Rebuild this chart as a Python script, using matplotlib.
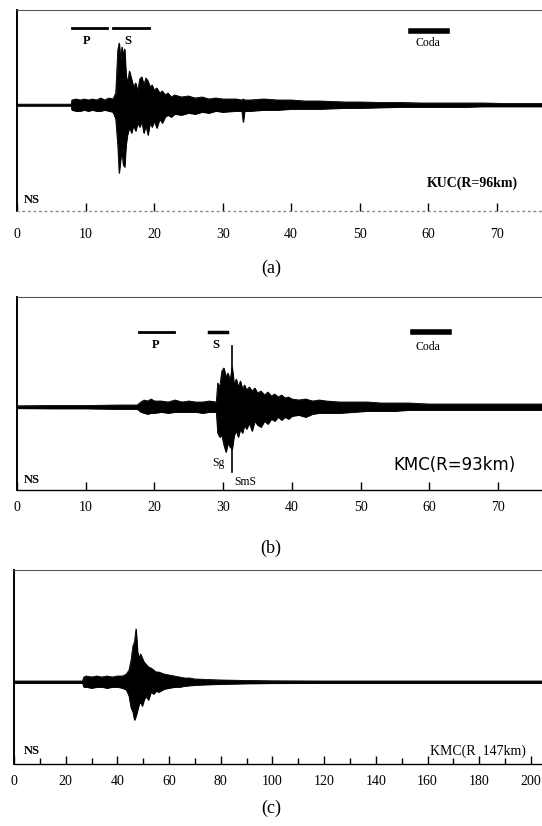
import matplotlib
matplotlib.use("Agg")
from matplotlib import pyplot as plt

# envelopes (upper / lower), in px-like units about the zero line
ta = [0, 7.9, 8.0, 8.6, 9.2, 9.8, 10.4, 11.0, 11.6, 12.2, 12.8, 13.4, 14.0, 14.4, 14.7, 14.9, 15.1, 15.3,
      15.5, 15.7, 15.9, 16.1, 16.4, 16.7, 17.0, 17.3, 17.6, 17.9, 18.2, 18.5, 18.8, 19.1, 19.4, 19.7,
      20.0, 20.4, 20.8, 21.2, 21.6, 22.0, 22.5, 23.0, 24, 25, 26, 27, 28, 29, 30, 32, 32.8, 33.0, 33.2,
      34, 36, 38, 40, 42, 44, 46, 48, 50, 53, 56, 59, 62, 65, 68, 71, 74, 76.6]
ua = [0.8, 0.8, 5, 6, 5, 6, 5, 6, 5, 7, 5, 7, 6, 12, 55, 62, 45, 58,
      50, 56, 30, 22, 34, 26, 18, 22, 14, 26, 28, 20, 27, 24, 18, 20,
      15, 17, 12, 14, 10, 12, 8, 10, 8, 9, 7, 8, 6, 7, 6, 6, 5, 6, 5,
      5, 6, 5, 5, 4, 4, 3.5, 3, 3, 2.5, 2.5, 2, 2, 2, 2, 1.5, 1.5, 1.5]
la = [-0.8, -0.8, -5, -6, -6, -5, -6, -5, -6, -6, -5, -6, -7, -14, -40, -68, -55, -45,
      -60, -62, -40, -30, -22, -28, -20, -26, -18, -22, -16, -28, -20, -30, -18, -22,
      -16, -23, -14, -18, -12, -10, -12, -9, -10, -8, -9, -7, -8, -6, -7, -6, -6, -17, -6,
      -6, -5, -5, -4, -4, -4, -3.5, -3, -3, -2.5, -2, -2, -2, -2, -1.5, -1.5, -1.5, -1.5]

tb = [0, 5, 10, 15, 17.5, 18.0, 18.5, 19.0, 19.5, 20.0, 21, 22, 23, 24, 25, 26, 27, 28, 29.0,
      29.2, 29.5, 29.8, 30.1, 30.4, 30.7, 31.0, 31.3, 31.6, 31.9, 32.2, 32.5, 32.8, 33.1, 33.4,
      33.8, 34.2, 34.6, 35.0, 35.5, 36.0, 36.5, 37.0, 37.5, 38.0, 38.5, 39.0, 39.5, 40, 41, 42,
      43, 44, 45, 47, 49, 51, 53, 55, 57, 60, 63, 66, 69, 72, 76.4]
ub = [1.2, 1.5, 1.5, 2, 2, 5, 7, 6, 8, 6, 6, 5, 7, 5, 6, 5, 5, 6, 5,
      24, 20, 36, 39, 30, 34, 26, 40, 22, 28, 20, 26, 18, 22, 17,
      20, 16, 19, 14, 16, 12, 15, 11, 13, 10, 12, 9, 10, 8, 7, 8,
      6, 7, 6, 5, 5, 5, 4, 4, 4, 3, 3, 3, 3, 3, 3]
lb = [-1.2, -1.5, -1.5, -2, -2, -5, -6, -7, -6, -6, -5, -6, -5, -5, -5, -5, -6, -5, -5,
      -26, -30, -28, -38, -45, -36, -40, -42, -28, -24, -30, -22, -26, -18, -22,
      -16, -24, -14, -18, -20, -14, -17, -12, -14, -10, -13, -10, -12, -9, -8, -10,
      -7, -6, -6, -6, -5, -4, -4, -4, -3, -3, -3, -3, -3, -3, -3]

tc = [0, 26.5, 27, 28, 30, 32, 34, 36, 38, 40, 42, 43.5, 44.5, 45.3, 46.0, 46.6, 47.2, 47.8,
      48.4, 49.0, 49.6, 50.3, 51, 52, 53, 54, 55, 56, 58, 60, 62, 64, 66, 68, 70, 75, 80, 90,
      100, 120, 150, 180, 204.3]
uc = [1, 1, 5, 6, 5, 6, 5, 6, 5, 6, 6, 8, 12, 22, 36, 40, 53, 30,
      24, 28, 24, 20, 18, 15, 14, 12, 10, 10, 8, 7, 6, 5, 4, 4, 3, 2.5, 2, 1.5,
      1.2, 1, 1, 1, 1]
lc = [-1, -1, -5, -5, -6, -5, -5, -6, -5, -5, -6, -8, -14, -26, -30, -38, -34, -28,
      -22, -20, -24, -18, -14, -18, -10, -12, -9, -10, -7, -6, -5, -5, -4, -3.5, -3, -2.5, -2, -1.5,
      -1.2, -1, -1, -1, -1]

ticks_a = [0, 10, 20, 30, 40, 50, 60, 70]
ticks_b = [0, 10, 20, 30, 40, 50, 60, 70]
ticks_c = [0, 20, 40, 60, 80, 100, 120, 140, 160, 180, 200]

serif = ['Liberation Serif', 'DejaVu Serif']
sans = ['DejaVu Sans']

fig = plt.figure(figsize=(5.42, 8.26), dpi=100)
axa = fig.add_axes([0.0314, 0.7446, 0.9686, 0.2433])
axb = fig.add_axes([0.0314, 0.4068, 0.9686, 0.2336])
axc = fig.add_axes([0.0258, 0.0751, 0.9742, 0.2348])


def style(ax, xmax, ylim, ticks, pad):
    ax.set_xlim(0, xmax)
    ax.set_ylim(*ylim)
    ax.spines['right'].set_visible(False)
    ax.spines['left'].set_linewidth(1.4)
    ax.spines['top'].set_linewidth(0.8)
    ax.spines['top'].set_color('#555555')
    ax.spines['bottom'].set_linewidth(1.0)
    ax.set_yticks([])
    ax.set_xticks(ticks)
    ax.set_xticklabels([str(t) for t in ticks], family=serif, fontsize=10)
    ax.tick_params(axis='x', direction='in', length=6, width=1, pad=pad)


def trace(ax, t, up, lo):
    ax.fill_between(t, lo, up, color='black', lw=0.6)
    ax.plot(t, up, color='black', lw=0.6)
    ax.plot(t, lo, color='black', lw=0.6)


# (a)
style(axa, 76.6, (-106, 95), ticks_a, 12)
axa.spines['bottom'].set_linestyle((0, (1, 3)))
axa.spines['bottom'].set_color('#888888')
trace(axa, ta, ua, la)
axa.plot([8.0, 13.1], [77, 77], color='black', lw=2)
axa.plot([14.0, 19.2], [77, 77], color='black', lw=2)
axa.plot([57.5, 62.8], [74, 74], color='black', lw=4)
axa.text(10.2, 64, 'P', family=serif, fontsize=9, fontweight='bold', ha='center', va='center')
axa.text(16.2, 64, 'S', family=serif, fontsize=9, fontweight='bold', ha='center', va='center')
axa.text(60.0, 62, 'Coda', family=serif, fontsize=8.5, ha='center', va='center')
axa.text(1.0, -95, 'NS', family=serif, fontsize=9, fontweight='bold', ha='left', va='center')
axa.text(73.1, -78, 'KUC(R=96km)', family=serif, fontsize=10, fontweight='bold', ha='right', va='center')

# (b)
style(axb, 76.4, (-83, 110), ticks_b, 8)
trace(axb, tb, ub, lb)
axb.plot([17.8, 22.9], [75, 75], color='black', lw=2)
axb.plot([27.9, 30.6], [75, 75], color='black', lw=2.5)
axb.plot([57.6, 62.9], [75, 75], color='black', lw=4)
axb.plot([31.3, 31.3], [61, -65], color='black', lw=1.2)
axb.text(20.1, 62, 'P', family=serif, fontsize=9, fontweight='bold', ha='center', va='center')
axb.text(29.0, 62, 'S', family=serif, fontsize=9, fontweight='bold', ha='center', va='center')
axb.text(59.8, 60, 'Coda', family=serif, fontsize=8.5, ha='center', va='center')
axb.text(29.3, -56, 'Sg', family=serif, fontsize=8.5, ha='center', va='center')
axb.text(33.2, -75, 'SmS', family=serif, fontsize=8.5, ha='center', va='center')
axb.text(1.0, -73, 'NS', family=serif, fontsize=9, fontweight='bold', ha='left', va='center')
axb.text(72.6, -58, 'KMC(R=93km)', family=sans, fontsize=12, ha='right', va='center')

# (c)
style(axc, 204.3, (-82, 112), ticks_c, 8)
axc.set_xticks(range(10, 201, 20), minor=True)
axc.tick_params(axis='x', which='minor', direction='in', length=4, width=1)
trace(axc, tc, uc, lc)
axc.text(3.9, -69, 'NS', family=serif, fontsize=9, fontweight='bold', ha='left', va='center')
axc.text(198, -69, 'KMC(R  147km)', family=serif, fontsize=10, ha='right', va='center')

fig.text(0.5, 1 - 268 / 826, '(a)', family=serif, fontsize=13, ha='center', va='center')
fig.text(0.5, 1 - 548 / 826, '(b)', family=serif, fontsize=13, ha='center', va='center')
fig.text(0.5, 1 - 808 / 826, '(c)', family=serif, fontsize=13, ha='center', va='center')

fig.savefig('out.png', dpi=100)
